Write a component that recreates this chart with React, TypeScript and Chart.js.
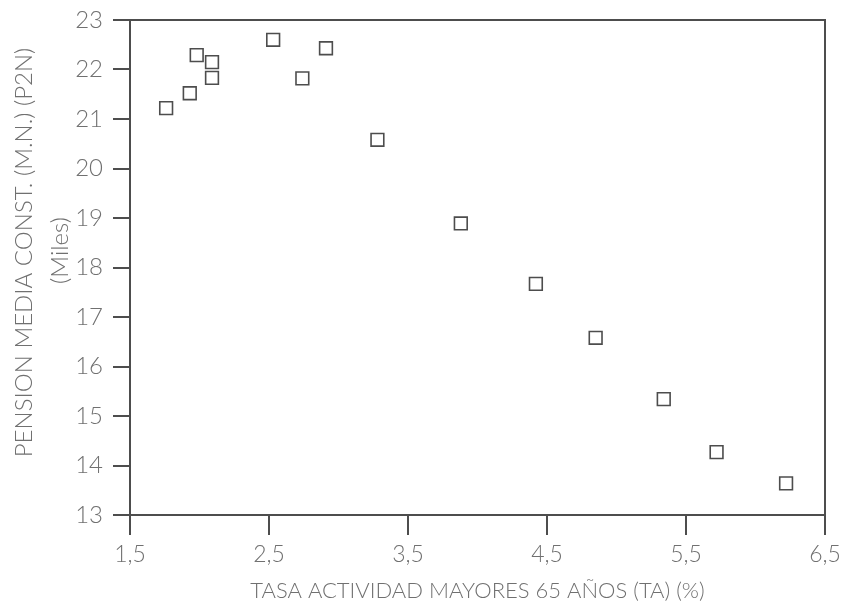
import React, { useEffect, useRef } from "react";
import { Chart, registerables } from "chart.js";

Chart.register(...registerables);

const activityRate = [1.76, 1.93, 1.98, 2.09, 2.09, 2.53, 2.74, 2.91, 3.28, 3.88, 4.42, 4.85, 5.34, 5.72, 6.22];
const meanPension = [21.22, 21.52, 22.29, 22.15, 21.83, 22.6, 21.82, 22.43, 20.58, 18.89, 17.67, 16.58, 15.34, 14.27, 13.64];
const xTickValues = [1.5, 2.5, 3.5, 4.5, 5.5, 6.5];
const xTickLabels = ["1,5", "2,5", "3,5", "4,5", "5,5", "6,5"];
const yTickValues = [13, 14, 15, 16, 17, 18, 19, 20, 21, 22, 23];
const xTitle = "TASA ACTIVIDAD MAYORES 65 AÑOS (TA) (%)";
const yTitleLines = ["PENSION MEDIA CONST. (M.N.) (P2N)", "(Miles)"];

const AXIS = "#4d4d4d";
const TEXT = "#707070";
const FONT = "Lato, 'Open Sans', sans-serif";

export default function App() {
  const ref = useRef<HTMLCanvasElement | null>(null);
  useEffect(() => {
    if (!ref.current) return;
    const points = activityRate.map((x, i) => ({ x, y: meanPension[i] }));
    const framePlugin = {
      id: "frame",
      afterDraw(chart: any) {
        const { ctx, chartArea } = chart;
        ctx.save();
        ctx.strokeStyle = AXIS;
        ctx.lineWidth = 2;
        ctx.beginPath();
        ctx.moveTo(chartArea.left, chartArea.top);
        ctx.lineTo(chartArea.right, chartArea.top);
        ctx.lineTo(chartArea.right, chartArea.bottom);
        ctx.stroke();
        // y axis title (two lines, rotated)
        ctx.fillStyle = TEXT;
        ctx.font = `300 24px ${FONT}`;
        ctx.textAlign = "center";
        ctx.textBaseline = "middle";
        const cy = (chartArea.top + chartArea.bottom) / 2 - 15;
        ctx.translate(16, cy);
        ctx.rotate(-Math.PI / 2);
        ctx.fillText(yTitleLines[0], 0, 0);
        ctx.fillText(yTitleLines[1], 2, 36);
        ctx.restore();
      },
    };
    const chart = new Chart(ref.current, {
      type: "scatter",
      data: {
        datasets: [
          {
            data: points,
            pointStyle: "rect",
            pointRadius: 9,
            pointHoverRadius: 9,
            borderColor: AXIS,
            backgroundColor: "rgba(255,255,255,0)",
            pointBorderWidth: 1.6,
          },
        ],
      },
      options: {
        responsive: false,
        animation: false,
        events: [],
        layout: { padding: { top: 12, right: 14, bottom: 0, left: 0 } },
        plugins: { legend: { display: false }, tooltip: { enabled: false } },
        scales: {
          x: {
            type: "linear",
            min: 1.5,
            max: 6.5,
            afterBuildTicks: (s: any) => {
              s.ticks = xTickValues.map((v) => ({ value: v }));
            },
            afterFit: (s: any) => {
              s.height = 87;
              s.paddingLeft = 0;
              s.paddingRight = 0;
            },
            grid: { drawOnChartArea: false, drawTicks: true, tickLength: 20, color: AXIS, lineWidth: 2 },
            border: { display: true, color: AXIS, width: 2 },
            ticks: {
              autoSkip: false,
              maxRotation: 0,
              padding: 6,
              color: TEXT,
              font: { family: FONT, size: 23, weight: "300" as any },
              callback: (v: any) => {
                const i = xTickValues.indexOf(Number(v));
                return i >= 0 ? xTickLabels[i] : "";
              },
            },
            title: {
              display: true,
              text: xTitle,
              color: TEXT,
              padding: { top: 0, bottom: 0 },
              font: { family: FONT, size: 22, weight: "300" as any, lineHeight: 1 },
            },
          },
          y: {
            type: "linear",
            min: 13,
            max: 23,
            afterBuildTicks: (s: any) => {
              s.ticks = yTickValues.map((v) => ({ value: v }));
            },
            afterFit: (s: any) => {
              s.width = 122;
              s.paddingTop = 0;
              s.paddingBottom = 0;
            },
            grid: { drawOnChartArea: false, drawTicks: true, tickLength: 17, color: AXIS, lineWidth: 2 },
            border: { display: true, color: AXIS, width: 2 },
            ticks: {
              autoSkip: false,
              padding: 10,
              color: TEXT,
              font: { family: FONT, size: 24, weight: "300" as any },
              callback: (v: any) => String(v),
            },
          },
        },
      },
      plugins: [framePlugin],
    } as any);
    return () => chart.destroy();
  }, []);
  return <canvas ref={ref} width={831} height={594} />;
}
